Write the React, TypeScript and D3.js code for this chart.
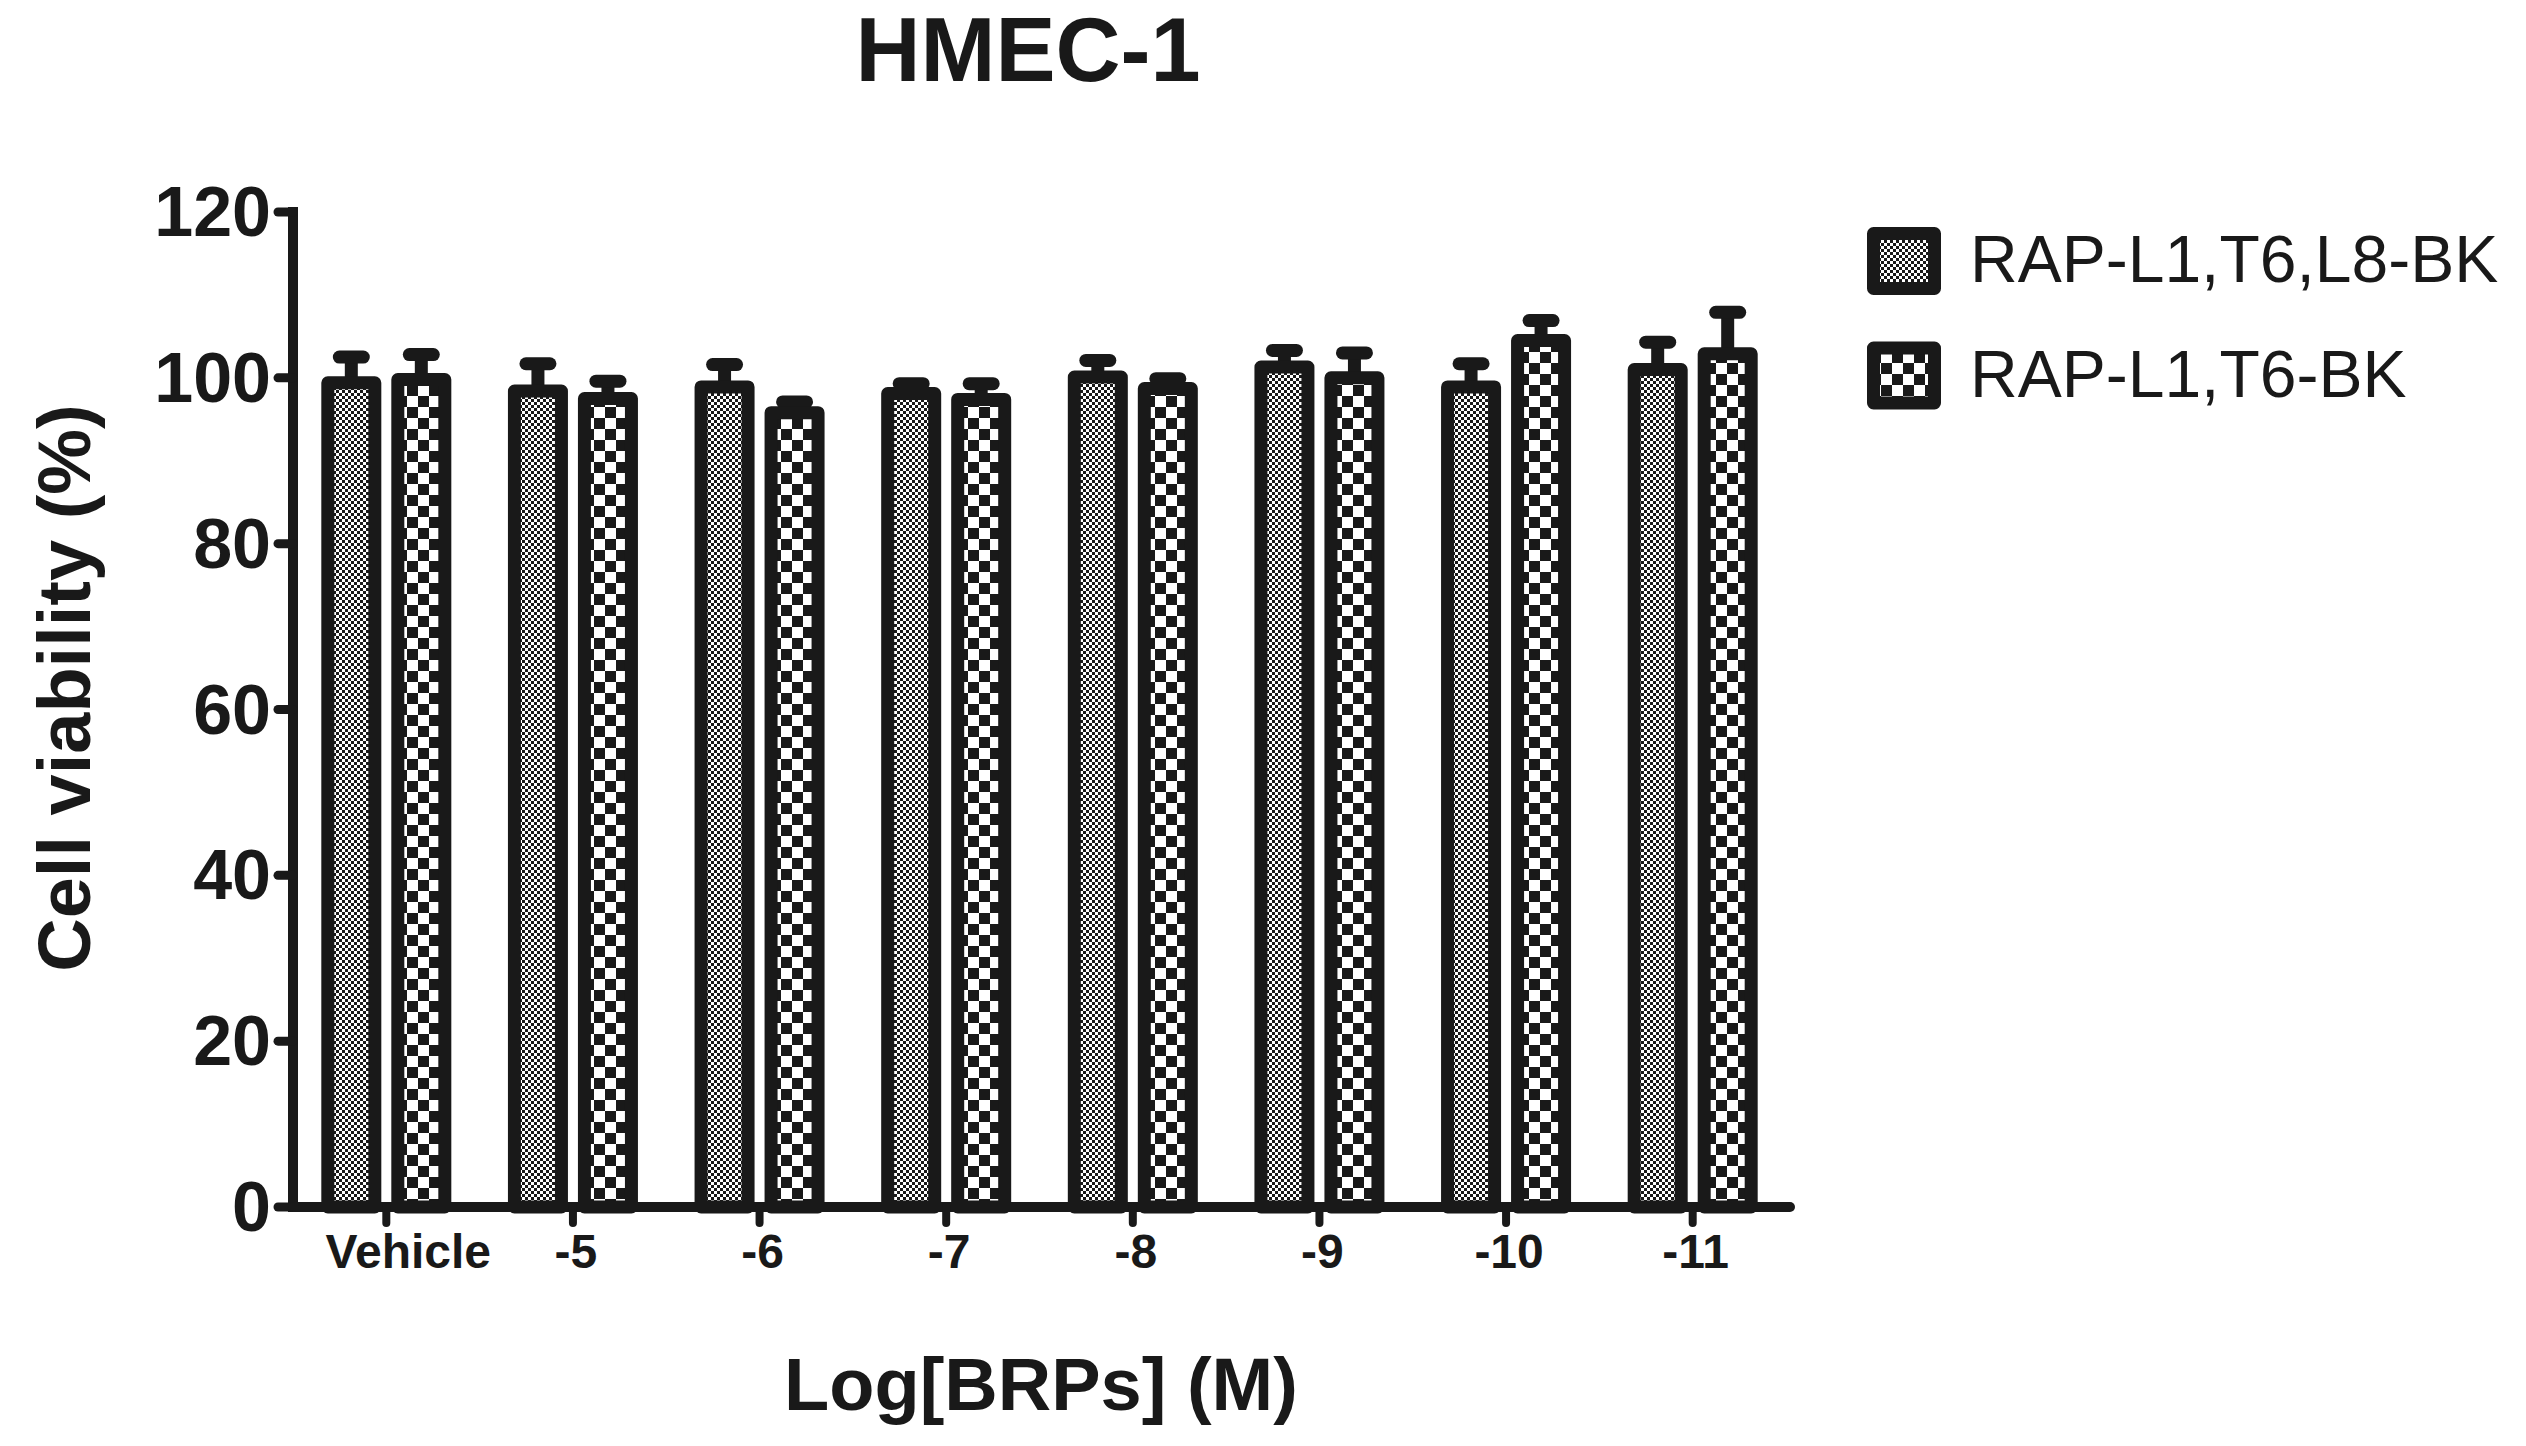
import React from 'react';
import * as d3 from 'd3';

// concentrations, log[M]
const categories = ['Vehicle', '-5', '-6', '-7', '-8', '-9', '-10', '-11'];
const seriesNames = ['RAP-L1,T6,L8-BK', 'RAP-L1,T6-BK'];

// cell viability (%), mean and SEM
const l8Means = [99.4, 98.4, 98.9, 98.1, 100.1, 101.3, 98.9, 101.0];
const l8Sem = [3.1, 3.3, 2.7, 1.2, 2.0, 2.0, 2.8, 3.3];
const t6Means = [99.8, 97.5, 95.8, 97.4, 98.7, 100.0, 104.5, 102.9];
const t6Sem = [3.0, 2.1, 1.3, 1.9, 1.2, 3.0, 2.4, 5.0];

const yTicks = [0, 20, 40, 60, 80, 100, 120];

const W = 2526, H = 1446;
const ink = '#191919';
const sw = 13;
const font = 'Arial, "Liberation Sans", Helvetica, sans-serif';

const App = () => {
  const x0 = d3.scaleBand().domain(categories).range([293, 1786]).padding(0);
  const bw = x0.bandwidth();
  const x1 = d3.scaleBand().domain(seriesNames)
    .range([bw / 2 - 65, bw / 2 + 65])
    .paddingInner(1 / 7);
  const y = d3.scaleLinear().domain([0, 120]).range([1207, 212]);

  const series = [
    { name: seriesNames[0], means: l8Means, sem: l8Sem, fill: 'url(#fine)' },
    { name: seriesNames[1], means: t6Means, sem: t6Sem, fill: 'url(#coarse)' },
  ];

  const xEnd = 1790;

  return (
    <svg width={W} height={H} style={{ position: 'absolute', left: 0, top: 0, background: '#fff' }}>
      <defs>
        <pattern id="fine" patternUnits="userSpaceOnUse" width={6} height={6}>
          <rect width={6} height={6} fill="#fff" />
          <rect x={0} y={0} width={3} height={3} fill={ink} />
          <rect x={3} y={3} width={3} height={3} fill={ink} />
        </pattern>
        <pattern id="coarse" patternUnits="userSpaceOnUse" width={22} height={22}>
          <rect width={22} height={22} fill="#fff" />
          <rect x={0} y={0} width={11} height={11} fill={ink} />
          <rect x={11} y={11} width={11} height={11} fill={ink} />
        </pattern>
      </defs>

      <text x={1028} y={81} textAnchor="middle" fontFamily={font} fontWeight="bold"
        fontSize={90} fill={ink}>HMEC-1</text>

      {/* bars + error bars */}
      {series.map((s) => (
        <g key={s.name}>
          {categories.map((c, i) => {
            const cx = x0(c)! + x1(s.name)! + x1.bandwidth() / 2;
            const top = y(s.means[i]);
            const errTop = y(s.means[i] + s.sem[i]);
            return (
              <g key={c}>
                <line x1={cx} x2={cx} y1={top} y2={errTop} stroke={ink} strokeWidth={13} />
                <line x1={cx - 12} x2={cx + 12} y1={errTop} y2={errTop} stroke={ink}
                  strokeWidth={13} strokeLinecap="round" />
                <rect x={x0(c)! + x1(s.name)! + sw / 2} y={top}
                  width={x1.bandwidth() - sw} height={y(0) - top}
                  fill={s.fill} stroke={ink} strokeWidth={sw} strokeLinejoin="round" />
              </g>
            );
          })}
        </g>
      ))}

      {/* y axis */}
      <line x1={293} x2={293} y1={y(120)} y2={y(0)} stroke={ink} strokeWidth={10} strokeLinecap="square" />
      {yTicks.map((t) => (
        <g key={t}>
          <line x1={293} x2={278} y1={y(t)} y2={y(t)} stroke={ink} strokeWidth={9} strokeLinecap="round" />
          <text x={271} y={y(t) + 24} textAnchor="end" fontFamily={font} fontWeight="bold"
            fontSize={70} fill={ink}>{t}</text>
        </g>
      ))}

      {/* x axis */}
      <line x1={293} x2={xEnd} y1={y(0)} y2={y(0)} stroke={ink} strokeWidth={10} strokeLinecap="round" />
      {categories.map((c) => {
        const cx = x0(c)! + bw / 2;
        return (
          <g key={c}>
            <line x1={cx} x2={cx} y1={y(0)} y2={y(0) + 16} stroke={ink} strokeWidth={8} strokeLinecap="round" />
            <text x={cx + (c === 'Vehicle' ? 22 : 3)} y={1268} textAnchor="middle" fontFamily={font}
              fontWeight="bold" fontSize={48} fill={ink}>{c}</text>
          </g>
        );
      })}

      <text x={1041} y={1410} textAnchor="middle" fontFamily={font} fontWeight="bold"
        fontSize={74} fill={ink}>Log[BRPs] (M)</text>

      <text transform="translate(90,688) rotate(-90)" textAnchor="middle" fontFamily={font}
        fontWeight="bold" fontSize={74} fill={ink}>Cell viability (%)</text>

      {/* legend */}
      {series.map((s, i) => {
        const cy = 261 + i * 114.5;
        return (
          <g key={s.name}>
            <rect x={1867 + sw / 2} y={cy - 34 + sw / 2} width={74 - sw} height={68 - sw}
              fill={s.fill} stroke={ink} strokeWidth={sw} strokeLinejoin="round" />
            <text x={1970} y={cy + 21} fontFamily={font} fontSize={66} fill={ink}>{s.name}</text>
          </g>
        );
      })}
    </svg>
  );
};

export default App;
